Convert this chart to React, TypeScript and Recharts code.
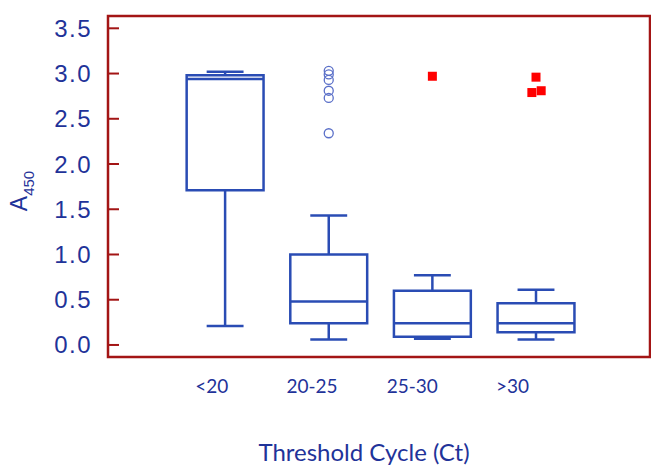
import React from "react";
import {
  ComposedChart,
  XAxis,
  YAxis,
  Scatter,
  ReferenceArea,
  ReferenceLine,
} from "recharts";

// box plot stats per Ct group
const categories = ["<20", "20-25", "25-30", ">30"];
const positions = [1, 2, 3, 4];
const whiskerLow = [0.21, 0.06, 0.07, 0.06];
const q1 = [1.71, 0.24, 0.09, 0.14];
const median = [2.94, 0.48, 0.24, 0.24];
const q3 = [2.98, 1.0, 0.6, 0.46];
const whiskerHigh = [3.02, 1.43, 0.77, 0.61];

// open-circle outliers (20-25 group)
const circleX = [2, 2, 2, 2, 2, 2];
const circleY = [3.03, 2.99, 2.93, 2.81, 2.73, 2.34];

// red square outliers
const squareX = [3, 4, 3.96, 4.05];
const squareY = [2.97, 2.96, 2.79, 2.81];

const yTicks = [0, 0.5, 1, 1.5, 2, 2.5, 3, 3.5];

const X_DOMAIN: [number, number] = [-0.13, 5.1];
const LABEL_DOMAIN: [number, number] = [-0.034, 5.37];
const Y_DOMAIN: [number, number] = [-0.133, 3.636];

const BOX_HALF = 0.371;
const CAP_HALF = 0.178;
const TICK_LEN = 0.106;

const BLUE = "#2a4cb4";
const TEXT_BLUE = "#1f3399";
const RED_FRAME = "#a31515";

const circleData = circleX.map((x, i) => ({ x, y: circleY[i] }));
const squareData = squareX.map((x, i) => ({ x, y: squareY[i] }));
const labelData = positions.map((p, i) => ({ x: p, y: median[i] }));

const renderYLabel = () => (
  <text
    transform="rotate(-90)"
    x={-191}
    y={27}
    textAnchor="middle"
    fill={TEXT_BLUE}
    fontFamily="Liberation Sans, Arial, sans-serif"
  >
    <tspan fontSize={23}>A</tspan>
    <tspan fontSize={15} dy={7}>
      450
    </tspan>
  </text>
);

const renderXLabel = (props: any) => {
  const vb = props.viewBox || {};
  return (
    <text
      x={vb.x + vb.width / 2 - 15}
      y={461}
      textAnchor="middle"
      fill={TEXT_BLUE}
      fontSize={24}
      fontFamily="Lato, sans-serif"
    >
      Threshold Cycle (Ct)
    </text>
  );
};

export default function App() {
  const seg = (x1: number, y1: number, x2: number, y2: number) => [
    { x: x1, y: y1 },
    { x: x2, y: y2 },
  ];
  return (
    <div style={{ position: "absolute", left: 0, top: 0, background: "#fff" }}>
      <ComposedChart
        width={651}
        height={465}
        margin={{ top: 16, right: 1, bottom: 0, left: 0 }}
      >
        <XAxis
          xAxisId="main"
          type="number"
          dataKey="x"
          domain={X_DOMAIN}
          allowDataOverflow
          hide
        />
        <XAxis
          xAxisId="lab"
          type="number"
          dataKey="x"
          domain={LABEL_DOMAIN}
          allowDataOverflow
          ticks={positions}
          interval={0}
          tickFormatter={(v: number) => categories[Math.round(v) - 1]}
          axisLine={false}
          tickLine={false}
          tickSize={0}
          tickMargin={23}
          height={108}
          tick={{ fill: TEXT_BLUE, fontSize: 19, fontFamily: "Lato, sans-serif" }}
          label={renderXLabel}
        />
        <YAxis
          yAxisId="main"
          type="number"
          dataKey="y"
          domain={Y_DOMAIN}
          allowDataOverflow
          ticks={yTicks}
          interval={0}
          tickFormatter={(v: number) => v.toFixed(1)}
          axisLine={false}
          tickLine={false}
          tickSize={0}
          tickMargin={16}
          width={108}
          tick={{
            fill: TEXT_BLUE,
            fontSize: 24,
            letterSpacing: 1.5,
            fontFamily: "Liberation Sans, Arial, sans-serif",
          }}
          label={renderYLabel}
        />

        {/* plot frame */}
        <ReferenceArea
          xAxisId="main"
          yAxisId="main"
          x1={X_DOMAIN[0]}
          x2={X_DOMAIN[1]}
          y1={Y_DOMAIN[0]}
          y2={Y_DOMAIN[1]}
          fill="none"
          fillOpacity={0}
          stroke={RED_FRAME}
          strokeWidth={2.5}
          ifOverflow="visible"
        />
        {yTicks.map((t) => (
          <ReferenceLine
            key={"yt" + t}
            xAxisId="main"
            yAxisId="main"
            segment={seg(X_DOMAIN[0], t, X_DOMAIN[0] + TICK_LEN, t)}
            stroke={RED_FRAME}
            strokeWidth={2}
            ifOverflow="visible"
          />
        ))}

        {/* boxes */}
        {positions.map((p, i) => (
          <ReferenceArea
            key={"box" + i}
            xAxisId="main"
            yAxisId="main"
            x1={p - BOX_HALF}
            x2={p + BOX_HALF}
            y1={q1[i]}
            y2={q3[i]}
            fill="none"
            fillOpacity={0}
            stroke={BLUE}
            strokeWidth={2.5}
            ifOverflow="visible"
          />
        ))}
        {positions.map((p, i) => (
          <ReferenceLine
            key={"med" + i}
            xAxisId="main"
            yAxisId="main"
            segment={seg(p - BOX_HALF, median[i], p + BOX_HALF, median[i])}
            stroke={BLUE}
            strokeWidth={2.5}
            ifOverflow="visible"
          />
        ))}
        {positions.map((p, i) => (
          <ReferenceLine
            key={"wh" + i}
            xAxisId="main"
            yAxisId="main"
            segment={seg(p, q3[i], p, whiskerHigh[i])}
            stroke={BLUE}
            strokeWidth={2.5}
            ifOverflow="visible"
          />
        ))}
        {positions.map((p, i) => (
          <ReferenceLine
            key={"wl" + i}
            xAxisId="main"
            yAxisId="main"
            segment={seg(p, whiskerLow[i], p, q1[i])}
            stroke={BLUE}
            strokeWidth={2.5}
            ifOverflow="visible"
          />
        ))}
        {positions.map((p, i) => (
          <ReferenceLine
            key={"ch" + i}
            xAxisId="main"
            yAxisId="main"
            segment={seg(p - CAP_HALF, whiskerHigh[i], p + CAP_HALF, whiskerHigh[i])}
            stroke={BLUE}
            strokeWidth={2.5}
            ifOverflow="visible"
          />
        ))}
        {positions.map((p, i) => (
          <ReferenceLine
            key={"cl" + i}
            xAxisId="main"
            yAxisId="main"
            segment={seg(p - CAP_HALF, whiskerLow[i], p + CAP_HALF, whiskerLow[i])}
            stroke={BLUE}
            strokeWidth={2.5}
            ifOverflow="visible"
          />
        ))}

        {/* invisible series that carries the category label axis */}
        <Scatter
          xAxisId="lab"
          yAxisId="main"
          data={labelData}
          isAnimationActive={false}
          shape={() => <g />}
        />
        <Scatter
          xAxisId="main"
          yAxisId="main"
          data={circleData}
          isAnimationActive={false}
          shape={(props: any) => (
            <circle
              cx={props.cx}
              cy={props.cy}
              r={4.5}
              fill="none"
              stroke="#5a6fc8"
              strokeWidth={1.3}
            />
          )}
        />
        <Scatter
          xAxisId="main"
          yAxisId="main"
          data={squareData}
          isAnimationActive={false}
          shape={(props: any) => (
            <rect
              x={props.cx - 4.5}
              y={props.cy - 4.5}
              width={9}
              height={9}
              fill="#ff0000"
            />
          )}
        />
      </ComposedChart>
    </div>
  );
}
